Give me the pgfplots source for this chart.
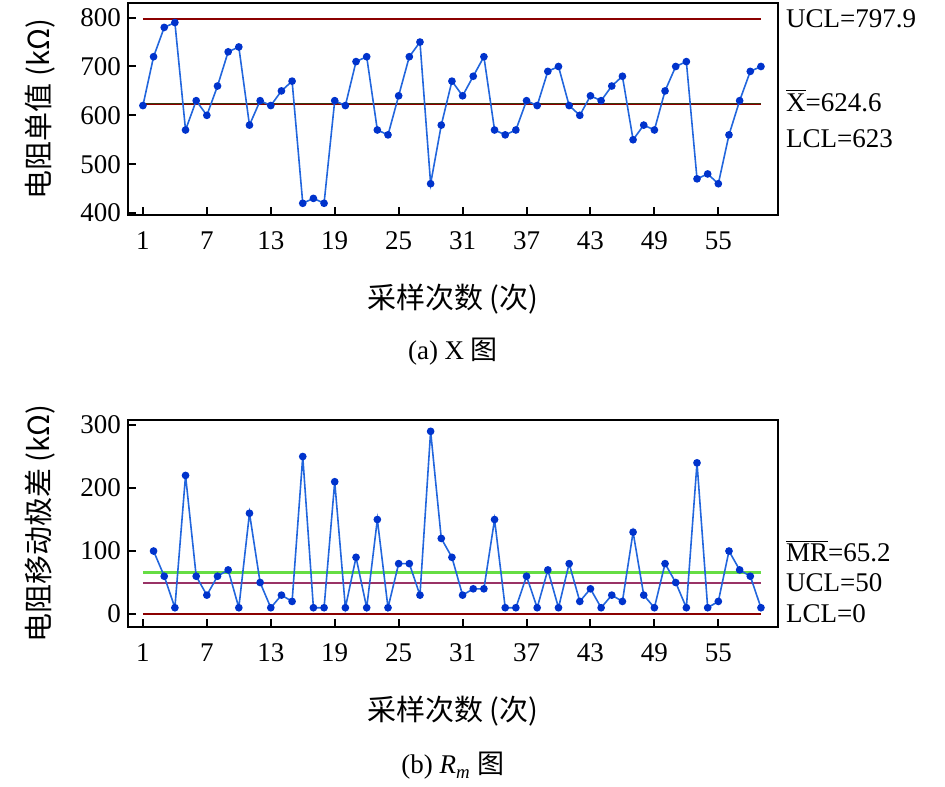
\documentclass[border=0pt]{standalone}
\usepackage{pgfplots}
\pgfplotsset{compat=1.18}
\usepackage{fontspec}
\setmainfont{Liberation Serif}
\newfontfamily\cjk{Noto Sans CJK SC}
\definecolor{ucl}{HTML}{8B0000}
\definecolor{cl}{HTML}{3A3A10}
\definecolor{grn}{HTML}{66DD44}
\definecolor{pur}{HTML}{993366}
\definecolor{ser}{HTML}{2266DD}
\definecolor{mk}{HTML}{0033CC}
\pgfplotstableread{
x y
1 620
2 720
3 780
4 790
5 570
6 630
7 600
8 660
9 730
10 740
11 580
12 630
13 620
14 650
15 670
16 420
17 430
18 420
19 630
20 620
21 710
22 720
23 570
24 560
25 640
26 720
27 750
28 460
29 580
30 670
31 640
32 680
33 720
34 570
35 560
36 570
37 630
38 620
39 690
40 700
41 620
42 600
43 640
44 630
45 660
46 680
47 550
48 580
49 570
50 650
51 700
52 710
53 470
54 480
55 460
56 560
57 630
58 690
59 700
}\xdata
\pgfplotstableread{
x y
2 100
3 60
4 10
5 220
6 60
7 30
8 60
9 70
10 10
11 160
12 50
13 10
14 30
15 20
16 250
17 10
18 10
19 210
20 10
21 90
22 10
23 150
24 10
25 80
26 80
27 30
28 290
29 120
30 90
31 30
32 40
33 40
34 150
35 10
36 10
37 60
38 10
39 70
40 10
41 80
42 20
43 40
44 10
45 30
46 20
47 130
48 30
49 10
50 80
51 50
52 10
53 240
54 10
55 20
56 100
57 70
58 60
59 10
}\mrdata
\pgfplotsset{base/.style={
  scale only axis, width=325pt, xmin=-0.4, xmax=60.6,
  xtick={1,7,...,55}, axis line style={line width=1pt}, tick style={line width=1pt, black},
  tick align=inside, xtick pos=bottom, ytick pos=left, major tick length=4pt,
  ticklabel style={font=\fontsize{13.5}{13.5}\selectfont},
  /pgf/number format/assume math mode=true,
  xticklabel style={yshift=-5pt},
  xlabel style={font=\fontsize{14.5}{14.5}\selectfont\cjk, yshift=-10pt},
  ylabel style={font=\fontsize{14.5}{14.5}\selectfont\cjk, yshift=6pt},
  clip=false}}
\begin{document}
\begin{tikzpicture}
\path (0pt,0pt) rectangle (472.5pt,393pt);
\begin{axis}[base, at={(64pt,285.5pt)}, anchor=south west, height=106pt,
  ymin=396, ymax=830, ytick={400,500,...,800},
  xlabel={采样次数 (次)}, ylabel={电阻单值 (kΩ)}]
\draw[ucl, line width=1pt] (axis cs:1,797.9) -- (axis cs:59,797.9);
\draw[ucl, line width=1pt] (axis cs:1,623) -- (axis cs:59,623);
\draw[cl, line width=0.8pt] (axis cs:1,624.6) -- (axis cs:59,624.6);
\addplot[ser, line width=0.8pt, mark=*, mark size=1.5pt, mark options={mk}] table {\xdata};
\node[anchor=west, font=\fontsize{13.5}{13.5}\selectfont] at (axis cs:60.7,797.9) {UCL=797.9};
\node[anchor=west, font=\fontsize{13.5}{13.5}\selectfont] at (axis cs:60.7,630) {$\overline{\mbox{X}}$=624.6};
\node[anchor=west, font=\fontsize{13.5}{13.5}\selectfont] at (axis cs:60.7,552) {LCL=623};
\end{axis}
\node[font=\fontsize{13.5}{13.5}\selectfont] at (226.5pt,217pt) {(a) X {\cjk 图}};
\begin{axis}[base, at={(64pt,79.5pt)}, anchor=south west, height=103.5pt,
  ymin=-20.6, ymax=308, ytick={0,100,200,300},
  xlabel={采样次数 (次)}, ylabel={电阻移动极差 (kΩ)}]
\draw[grn, line width=1.5pt] (axis cs:1,65.2) -- (axis cs:59,65.2);
\draw[pur, line width=1pt] (axis cs:1,50) -- (axis cs:59,50);
\draw[ucl, line width=0.8pt] (axis cs:1,0) -- (axis cs:59,0);
\addplot[ser, line width=0.8pt, mark=*, mark size=1.5pt, mark options={mk}] table {\mrdata};
\node[anchor=west, font=\fontsize{13.5}{13.5}\selectfont] at (axis cs:60.7,100) {$\overline{\mbox{MR}}$=65.2};
\node[anchor=west, font=\fontsize{13.5}{13.5}\selectfont] at (axis cs:60.7,50) {UCL=50};
\node[anchor=west, font=\fontsize{13.5}{13.5}\selectfont] at (axis cs:60.7,0) {LCL=0};
\end{axis}
\node[font=\fontsize{13.5}{13.5}\selectfont] at (226.5pt,10pt) {(b) \textit{R}\textsubscript{\textit{m}} {\cjk 图}};
\end{tikzpicture}
\end{document}
